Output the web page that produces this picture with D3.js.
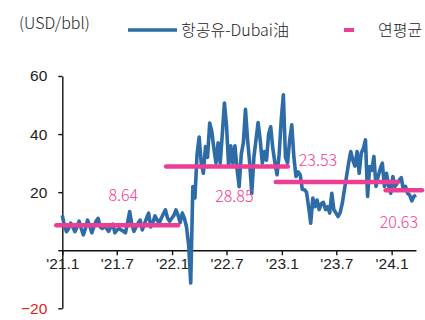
<!DOCTYPE html>
<html>
<head>
<meta charset="utf-8">
<script src="https://cdn.jsdelivr.net/npm/d3@7"></script>
<style>
  html, body { margin: 0; padding: 0; background: #fff; }
  svg { display: block; font-family: "Noto Sans CJK KR", "Noto Sans", sans-serif; font-weight: 300; }
</style>
</head>
<body>
<svg id="chart" width="425" height="320"></svg>
<script>
// Weekly jet fuel – Dubai crack spread (USD/bbl), first observation on firstWeek
const firstWeek = "2021-01-01";
const spreadWeekly = [
  12, 8.5, 6.4, 7.5, 9.3, 8, 6.4, 8, 10, 7.5,
  5.3, 7.5, 10.4, 8.5, 6, 8, 10, 11, 8, 7.5,
  8.5, 7.5, 6.5, 8, 9, 6, 7, 7.5, 7, 6.5,
  6, 9.5, 13.3, 9, 6.5, 8, 9.3, 10.4, 7, 9,
  11, 12.8, 8, 9.5, 11.8, 10.5, 9.3, 11, 12.5, 13.9,
  11, 10, 11, 12, 13.9, 12, 9.5, 12.8, 11, 8,
  2, -11.3, 21.9, 18, 33, 39, 30, 26.5, 35.7, 32,
  43.8, 41, 35, 30, 37, 30, 40, 50.7, 43, 29,
  36, 30, 36, 28, 21.9, 33, 37, 48.5, 38, 30,
  19.6, 32, 38, 44, 38, 30, 34, 31, 40, 42.5,
  35, 30, 26, 33, 45, 53.5, 32, 30, 38, 43.2,
  32, 25.4, 27, 26, 21, 20.8, 20, 15, 9.3, 18,
  15, 17.3, 14, 16, 16.5, 14, 15, 12.8, 19.6, 13.9,
  12.8, 11.6, 13, 16.2, 20.8, 25.4, 30, 34, 31, 29,
  34, 26.5, 33.5, 35, 38, 18.5, 28.8, 27.5, 32.3, 22,
  25.4, 28, 30, 22, 26.5, 22, 19.6, 25.4, 22, 23,
  24, 25, 20.8, 22, 19.6, 19, 17, 18.5, 19
];

// Annual averages
const avgYears = [2021, 2022, 2023, 2024];
const avgValues = [8.64, 28.85, 23.53, 20.63];

// Axis ticks
const yTicks = [-20, 0, 20, 40, 60];
const xTickDates = ["2021-01-01", "2021-07-01", "2022-01-01", "2022-07-01", "2023-01-01", "2023-07-01", "2024-01-01"];
const xTickLabels = ["'21.1", "'21.7", "'22.1", "'22.7", "'23.1", "'23.7", "'24.1"];

// Legend
const legendSeries = "항공유-Dubai油";
const legendAvg = "연평균";
const unitLabel = "(USD/bbl)";

const BLUE = "#2e6ca7";
const PINK = "#ee3d94";
const DAY = 24 * 3600 * 1000;

const parse = d3.utcParse("%Y-%m-%d");
const start = parse(firstWeek);
const series = spreadWeekly.map((v, i) => ({ date: new Date(+start + i * 7 * DAY), value: v }));
const lastDate = series[series.length - 1].date;

const svg = d3.select("#chart");

const x = d3.scaleUtc().domain([start, lastDate]).range([62.3, 416]);
const y = d3.scaleLinear().domain([-20, 60]).range([308.3, 76]);

// Y axis
const yAxis = svg.append("g")
  .attr("transform", `translate(${x(start)},0)`)
  .call(d3.axisLeft(y).tickValues(yTicks).tickSize(4).tickSizeOuter(0).tickPadding(11)
    .tickFormat(d => d === 0 ? "" : (d < 0 ? "\u2212" + Math.abs(d) : d)));
yAxis.select(".domain").attr("stroke", "#111").attr("stroke-width", 1.4);
yAxis.selectAll(".tick line").attr("stroke", "#111").attr("stroke-width", 1.4);
yAxis.selectAll(".tick text")
  .attr("font-size", 15.5).attr("font-family", null)
  .attr("fill", d => d < 0 ? "#e8201e" : "#222");

// X axis at zero
const xAxis = svg.append("g")
  .attr("transform", `translate(0,${y(0)})`)
  .call(d3.axisBottom(x).tickValues(xTickDates.map(parse)).tickSize(5).tickSizeOuter(0).tickPadding(3)
    .tickFormat((d, i) => xTickLabels[i]));
xAxis.select(".domain").attr("stroke", "#111").attr("stroke-width", 1.4);
xAxis.selectAll(".tick line").attr("stroke", "#111").attr("stroke-width", 1.4);
xAxis.selectAll(".tick text").attr("font-size", 15.5).attr("font-family", null).attr("fill", "#222");

// Weekly spread line
svg.append("path")
  .datum(series)
  .attr("fill", "none")
  .attr("stroke", BLUE)
  .attr("stroke-width", 3.6)
  .attr("stroke-linejoin", "round")
  .attr("d", d3.line().x(d => x(d.date)).y(d => y(d.value)));

// Annual average segments, each a little wider than its year
const pad = 20 * DAY;
const avgData = avgYears.map((yr, i) => {
  const s = new Date(Date.UTC(yr, 0, 1));
  const e = new Date(Math.min(+new Date(Date.UTC(yr + 1, 0, 1)), +lastDate));
  return { s: new Date(+s - pad), e: new Date(+e + pad), v: avgValues[i] };
});
svg.append("g").selectAll("line").data(avgData).join("line")
  .attr("x1", d => x(d.s)).attr("x2", d => x(d.e))
  .attr("y1", d => y(d.v)).attr("y2", d => y(d.v))
  .attr("stroke", PINK).attr("stroke-width", 4.5).attr("stroke-linecap", "round");

// Average value labels
const labelPos = [
  { date: "2021-07-23", dy: -24 },
  { date: "2022-07-27", dy: 36 },
  { date: "2023-05-01", dy: -16 },
  { date: "2024-01-25", dy: 38 }
];
svg.append("g").selectAll("text").data(avgValues).join("text")
  .attr("x", (d, i) => x(parse(labelPos[i].date)))
  .attr("y", (d, i) => y(d) + labelPos[i].dy)
  .attr("text-anchor", "middle")
  .attr("font-size", 16)
  .attr("fill", PINK)
  .text(d => d.toFixed(2));

// Unit label and legend
svg.append("text").attr("x", 19).attr("y", 29).attr("font-size", 16).attr("fill", "#222").text(unitLabel);

const lg = svg.append("g");
lg.append("line").attr("x1", 128).attr("x2", 177).attr("y1", 30).attr("y2", 30)
  .attr("stroke", BLUE).attr("stroke-width", 3.5);
lg.append("text").attr("x", 181).attr("y", 35.5).attr("font-size", 16).attr("fill", "#222").text(legendSeries);
lg.append("line").attr("x1", 344).attr("x2", 354).attr("y1", 30).attr("y2", 30)
  .attr("stroke", PINK).attr("stroke-width", 4);
lg.append("text").attr("x", 378).attr("y", 35.5).attr("font-size", 16).attr("fill", "#222").text(legendAvg);
</script>
</body>
</html>
